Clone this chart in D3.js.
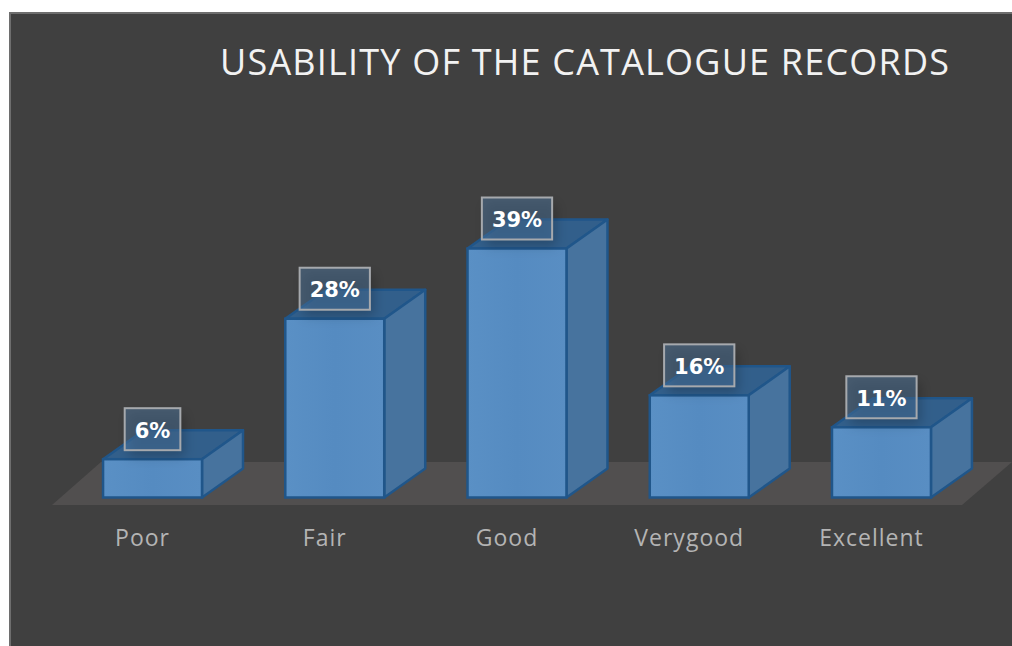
<!DOCTYPE html>
<html lang="en">
<head>
<meta charset="utf-8">
<title>Usability of the catalogue records</title>
<script src="https://d3js.org/d3.v7.min.js"></script>
<style>
  html, body { margin: 0; padding: 0; background: #fff; }
  svg { display: block; }
</style>
</head>
<body>
<script>
var categories = ["Poor", "Fair", "Good", "Verygood", "Excellent"];
var percents = [6, 28, 39, 16, 11];
var chartTitle = "USABILITY OF THE CATALOGUE RECORDS";

var width = 1012, height = 646;
var baseY = 497.5, depthX = 41, depthY = 29;

var x = d3.scaleBand().domain(categories).range([61.5, 972.5]).paddingInner(0.457).paddingOuter(0.228);
var y = d3.scaleLinear().domain([0, 39]).range([baseY, 248.5]);

var svg = d3.select("body").append("svg").attr("width", width).attr("height", height);

var defs = svg.append("defs");
var frontGrad = defs.append("linearGradient").attr("id", "front").attr("x1", 0).attr("x2", 1).attr("y1", 0).attr("y2", 0);
frontGrad.append("stop").attr("offset", "0").attr("stop-color", "#5a90c5");
frontGrad.append("stop").attr("offset", "0.5").attr("stop-color", "#558bc1");
frontGrad.append("stop").attr("offset", "1").attr("stop-color", "#598ec3");
defs.append("filter").attr("id", "soft").attr("x", "-40%").attr("y", "-40%").attr("width", "180%").attr("height", "180%")
  .append("feGaussianBlur").attr("stdDeviation", 6);

// background panel
svg.append("rect").attr("x", 9).attr("y", 12).attr("width", width - 9).attr("height", height - 12).attr("fill", "#6e6e6e");
svg.append("rect").attr("x", 11).attr("y", 14).attr("width", width - 11).attr("height", height - 14).attr("fill", "#404040");

svg.append("text")
  .attr("x", 220).attr("y", 75)
  .attr("font-family", "Open Sans")
  .attr("font-size", 36)
  .attr("letter-spacing", 1.2)
  .attr("fill", "#f2f2f2")
  .text(chartTitle);

// floor
svg.append("polygon")
  .attr("points", [[52, 505], [962, 505], [1012, 462], [101, 462]].join(" "))
  .attr("fill", "#514f4f");

var bar = svg.selectAll("g.bar").data(categories).enter().append("g").attr("class", "bar");

function line(pts) { return d3.line()(pts) + "Z"; }

bar.append("path")
  .attr("d", function(d, i) {
    var x0 = x(d), x1 = x0 + x.bandwidth(), t = y(percents[i]);
    return line([[x0, t], [x0 + depthX, t - depthY], [x1 + depthX, t - depthY], [x1, t]]);
  })
  .attr("fill", "#325f8b").attr("stroke", "#20568a").attr("stroke-width", 2.5).attr("stroke-linejoin", "round");

bar.append("path")
  .attr("d", function(d, i) {
    var x1 = x(d) + x.bandwidth(), t = y(percents[i]);
    return line([[x1, t], [x1 + depthX, t - depthY], [x1 + depthX, baseY - depthY], [x1, baseY]]);
  })
  .attr("fill", "#47739e").attr("stroke", "#20568a").attr("stroke-width", 2.5).attr("stroke-linejoin", "round");

bar.append("rect")
  .attr("x", function(d) { return x(d); })
  .attr("y", function(d, i) { return y(percents[i]); })
  .attr("width", x.bandwidth())
  .attr("height", function(d, i) { return baseY - y(percents[i]); })
  .attr("fill", "url(#front)").attr("stroke", "#20568a").attr("stroke-width", 2.5);

// category axis, no line or ticks
var axis = svg.append("g")
  .attr("transform", "translate(-10," + 505 + ")")
  .call(d3.axisBottom(x).tickSize(0).tickPadding(25));
axis.select(".domain").remove();
axis.selectAll("text")
  .attr("font-family", "Open Sans")
  .attr("font-size", 23)
  .attr("letter-spacing", 1)
  .attr("fill", "#b4b4b4");

// value labels
var label = svg.selectAll("g.label").data(categories).enter().append("g").attr("class", "label")
  .attr("transform", function(d, i) {
    return "translate(" + (x(d) + x.bandwidth() / 2) + "," + (y(percents[i]) - 51) + ")";
  });

label.append("text")
  .attr("y", 22).attr("dy", "0.35em")
  .attr("text-anchor", "middle")
  .attr("font-family", "DejaVu Sans")
  .attr("font-weight", "bold")
  .attr("font-size", 21)
  .attr("fill", "#ffffff")
  .text(function(d, i) { return percents[i] + "%"; });

function boxWidth(el) { return el.parentNode.querySelector("text").getComputedTextLength() + 20; }

// soft shadow that shows through the box
label.insert("rect", "text")
  .attr("x", function() { return -boxWidth(this) / 2 + 4; })
  .attr("width", function() { return boxWidth(this); })
  .attr("y", 6).attr("height", 42)
  .attr("fill", "#000").attr("fill-opacity", 0.22)
  .attr("filter", "url(#soft)");

label.insert("rect", "text")
  .attr("x", function() { return -boxWidth(this) / 2; })
  .attr("width", function() { return boxWidth(this); })
  .attr("y", 0).attr("height", 42)
  .attr("fill", "#4f7da8").attr("fill-opacity", 0.45)
  .attr("stroke", "#a6a9ad").attr("stroke-width", 2);
</script>
</body>
</html>
